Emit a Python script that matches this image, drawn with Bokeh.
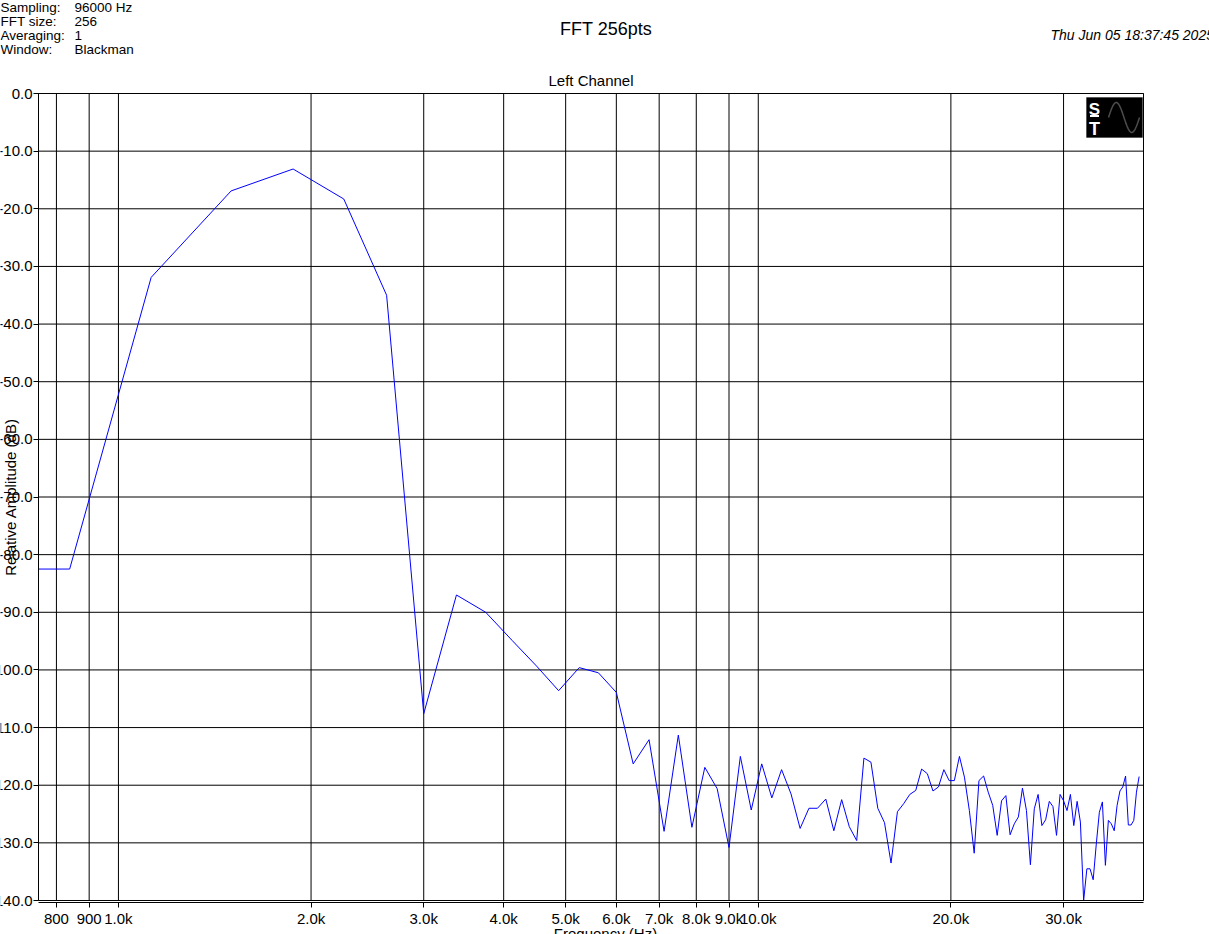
import math
import numpy as np
from bokeh.plotting import figure
from bokeh.models import (Range1d, FixedTicker, CustomJSTickFormatter, Label,
                          BoxAnnotation, PolyAnnotation, LogAxis, LinearAxis)
from bokeh.embed import file_html
from bokeh.resources import INLINE

# ---------------- data ----------------
freq_hz = [750, 839] + [375 * k for k in range(3, 106)]
level_db = [
    -82.5, -82.5,
    -31.9, -16.9, -13.1, -18.3, -35.0, -107.6, -87.0, -90.0,
    -94.9, -99.3, -103.6, -99.6, -100.5, -103.9, -116.3, -112.1, -128.0, -111.3,
    -127.3, -116.9, -120.6, -130.8, -115.0, -124.3, -116.3, -122.2, -117.3, -121.5,
    -127.5, -124.0, -124.0, -122.4, -127.9, -122.5, -127.2, -129.6, -115.3, -116.0,
    -124.0, -126.5, -133.5, -124.6, -123.2, -121.6, -120.9, -117.2, -118.0, -121.0,
    -120.3, -117.3, -119.2, -119.2, -115.0, -118.6, -124.4, -131.8, -119.2, -118.4,
    -121.2, -123.5, -128.7, -122.7, -121.8, -128.6, -126.7, -125.5, -120.5, -124.4,
    -133.8, -124.1, -121.6, -127.0, -126.0, -122.8, -123.7, -128.7, -121.6, -122.7,
    -124.4, -121.6, -127.0, -122.8, -126.4, -140.0, -134.5, -134.5, -136.4, -130.2,
    -124.7, -122.9, -133.9, -126.1, -126.7, -127.9, -123.5, -121.0, -120.3, -118.4,
    -126.9, -126.9, -126.1, -121.2, -118.5,
]
assert len(freq_hz) == len(level_db)

x_ticks = [800, 900, 1000, 2000, 3000, 4000, 5000, 6000, 7000, 8000, 9000, 10000, 20000, 30000]
y_ticks = [0, -10, -20, -30, -40, -50, -60, -70, -80, -90, -100, -110, -120, -130, -140]
X_LO, X_HI = 750, 40000
Y_LO, Y_HI = -140, 0

info_names = ["Sampling:", "FFT size:", "Averaging:", "Window:"]
info_values = ["96000 Hz", "256", "1", "Blackman"]
title_text = "FFT 256pts"
subtitle_text = "Left Channel"
date_text = "Thu Jun 05 18:37:45 2025"
x_label = "Frequency (Hz)"
y_label = "Relative Amplitude (dB)"

# ---------------- geometry (page pixels) ----------------
FONT = "Liberation Sans"
W, H = 1209, 934
FL, FR, FT, FB = 38, 1143, 93, 900      # plotting area on the page

dec_per_px = math.log10(X_HI / X_LO) / (FR - FL)
x_start = 10 ** (math.log10(X_LO) - FL * dec_per_px)
x_end = 10 ** (math.log10(X_HI) + (W - FR) * dec_per_px)
db_per_px = (Y_HI - Y_LO) / (FB - FT)
y_end = Y_HI + FT * db_per_px
y_start = Y_LO - (H - FB) * db_per_px

p = figure(width=W, height=H, x_axis_type="log",
           x_range=Range1d(x_start, x_end), y_range=Range1d(y_start, y_end),
           x_axis_location=None, y_axis_location=None,
           output_backend="svg", toolbar_location=None,
           min_border=0)
p.background_fill_color = "white"
p.border_fill_color = "white"
p.outline_line_color = None
p.grid.visible = False

# grid lines (inside the plotting area only)
nx, ny = len(x_ticks), len(y_ticks)
p.segment(x0=x_ticks, y0=[Y_LO] * nx, x1=x_ticks, y1=[Y_HI] * nx,
          line_color="black", line_width=1)
p.segment(x0=[X_LO] * ny, y0=y_ticks, x1=[X_HI] * ny, y1=y_ticks,
          line_color="black", line_width=1)
# plot-area border
p.add_layout(BoxAnnotation(left=X_LO, right=X_HI, bottom=Y_LO, top=Y_HI,
                           fill_alpha=0, line_color="black", line_width=1,
                           line_alpha=1))

# axes fixed onto the plotting area
xaxis = LogAxis(fixed_location=Y_LO - 2 * db_per_px, bounds=(X_LO, X_HI),
                ticker=FixedTicker(ticks=x_ticks),
                formatter=CustomJSTickFormatter(
                    code="return tick >= 1000 ? (tick/1000).toFixed(1) + 'k' : tick.toFixed(0);"))
yaxis = LinearAxis(fixed_location=X_LO, bounds=(Y_LO, Y_HI),
                   ticker=FixedTicker(ticks=y_ticks),
                   formatter=CustomJSTickFormatter(code="return tick.toFixed(1);"))
for ax in (xaxis, yaxis):
    ax.major_tick_out = 5
    ax.major_tick_in = 0
    ax.minor_tick_out = 0
    ax.minor_tick_in = 0
    ax.major_tick_line_color = "black"
    ax.axis_line_color = "black"
    ax.major_label_text_font = FONT
    ax.major_label_text_font_size = "15px"
    ax.major_label_text_color = "black"
    ax.axis_label_text_font = FONT
    ax.axis_label_text_font_size = "15px"
    ax.axis_label_text_font_style = "normal"
    ax.axis_label_text_color = "black"
xaxis.major_label_standoff = 2
yaxis.major_label_standoff = 1
yaxis.axis_label = y_label
yaxis.axis_label_standoff = -32
p.add_layout(xaxis, "below")
p.add_layout(yaxis, "left")

# data
p.line(freq_hz, level_db, line_color="#0000ff", line_width=1)


def add_label(text, px, py, size, align="left", baseline="alphabetic",
              style="normal", angle=0, color="black"):
    p.add_layout(Label(x=px, y=H - py, x_units="screen", y_units="screen",
                       text=text, text_font=FONT, text_font_size=size,
                       text_align=align, text_baseline=baseline,
                       text_font_style=style, angle=angle, text_color=color))


# header block
for i, (n, v) in enumerate(zip(info_names, info_values)):
    add_label(n, 0, 7 + 14 * i, "13.5px")
    add_label(v, 74, 7 + 14 * i, "13.5px")
add_label(title_text, 605.5, 28, "18px", align="center")
add_label(subtitle_text, 590.5, 80, "15px", align="center")
add_label(date_text, 1050, 34.5, "14px", style="italic")
add_label(x_label, 605, 933, "15px", align="center")

# logo (decoration)
p.add_layout(BoxAnnotation(left=1086, right=1142, top=H - 97, bottom=H - 137,
                           left_units="screen", right_units="screen",
                           top_units="screen", bottom_units="screen",
                           fill_color="black", fill_alpha=1, line_color="black"))
add_label("S", 1094, 109, "17px", align="center", style="bold", color="white")
p.add_layout(BoxAnnotation(left=1089.5, right=1098.5, top=H - 114.5, bottom=H - 116.5,
                           left_units="screen", right_units="screen",
                           top_units="screen", bottom_units="screen",
                           fill_color="white", fill_alpha=1, line_alpha=0))
add_label("T", 1094, 128, "18px", align="center", style="bold", color="white")
wx = np.linspace(1108, 1139, 40)
wy = 117 - 15 * np.sin((wx - 1108) / 31 * 2 * np.pi)
pxs = list(wx) + list(wx[::-1])
pys = [H - v for v in list(wy) + list(wy[::-1])]
p.add_layout(PolyAnnotation(xs=pxs, ys=pys, xs_units="screen", ys_units="screen",
                            fill_alpha=0, line_color="white", line_width=1.5))

open("out.html", "w").write(file_html(p, INLINE))
